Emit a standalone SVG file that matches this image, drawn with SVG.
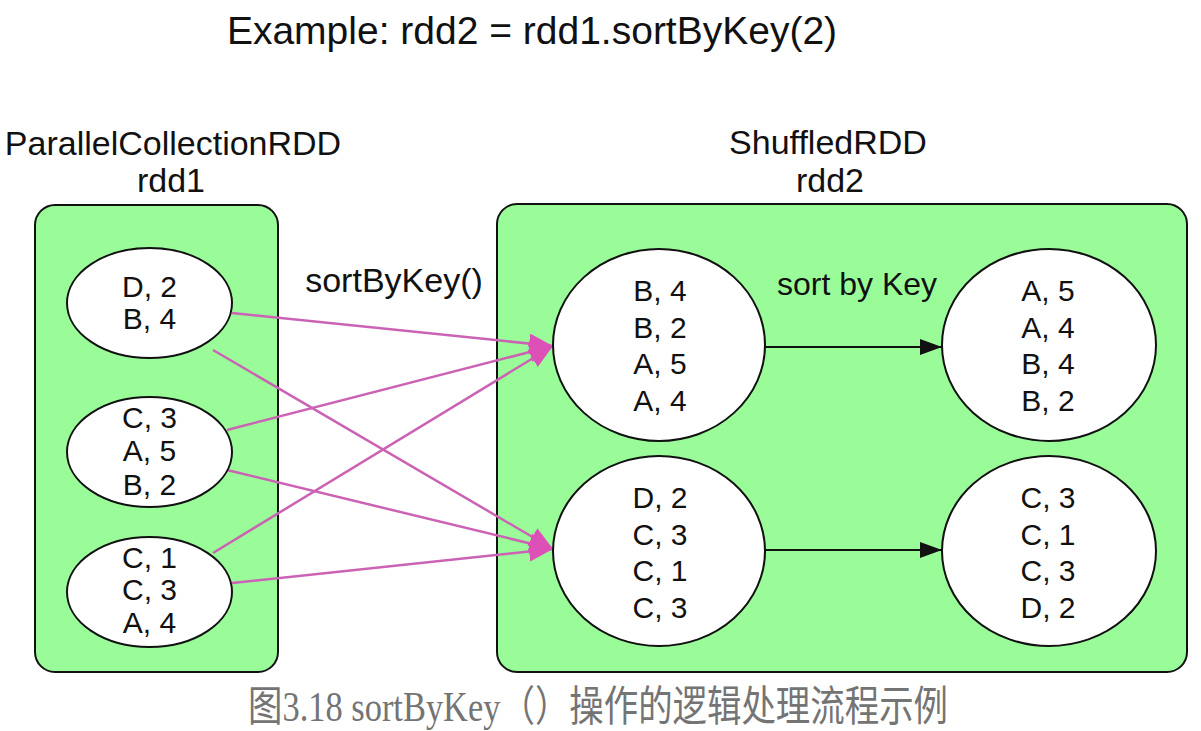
<svg xmlns="http://www.w3.org/2000/svg" width="1201" height="731" viewBox="0 0 1201 731">
<style>
.t{font-family:"Liberation Sans",Arial,sans-serif;fill:#111;text-anchor:middle}
.box{fill:#99fc99;stroke:#111;stroke-width:2}
.node{fill:#fff;stroke:#111;stroke-width:2}
.nt{font-family:"Liberation Sans",Arial,sans-serif;font-size:30px;fill:#111;text-anchor:middle}
.pink{stroke:#cc62b4;stroke-width:2.5;fill:none;marker-end:url(#mp)}
.blk{stroke:#111;stroke-width:2;fill:none;marker-end:url(#mb)}
</style>
<defs>
<marker id="mp" markerUnits="userSpaceOnUse" markerWidth="26" markerHeight="22" refX="24" refY="10" orient="auto">
<path d="M0,0 L24,10 L0,20 z" fill="#dc50b8"/>
</marker>
<marker id="mb" markerUnits="userSpaceOnUse" markerWidth="24" markerHeight="18" refX="22" refY="8" orient="auto">
<path d="M0,0 L22,8 L0,16 z" fill="#111"/>
</marker>
</defs>
<rect width="1201" height="731" fill="#fff"/>
<text class="t" x="532" y="44" font-size="39">Example: rdd2 = rdd1.sortByKey(2)</text>

<g id="rdd1">
<rect class="box" x="35" y="205" width="243" height="467" rx="20"/>
<text class="t" x="173" y="155" font-size="34">ParallelCollectionRDD</text>
<text class="t" x="171" y="192" font-size="34">rdd1</text>
</g>
<g id="rdd2">
<rect class="box" x="497" y="204" width="690" height="468" rx="20"/>
<text class="t" x="828" y="154" font-size="34">ShuffledRDD</text>
<text class="t" x="830" y="192" font-size="34">rdd2</text>
</g>

<g id="connectors">
<path class="pink" d="M232,313 L553,346"/>
<path class="pink" d="M213,350 L553,549"/>
<path class="pink" d="M227,430 L553,346"/>
<path class="pink" d="M227,470 L553,549"/>
<path class="pink" d="M213,553 L553,346"/>
<path class="pink" d="M232,583 L553,549"/>
<path class="blk" d="M765,347 L942,347"/>
<path class="blk" d="M765,550 L942,550"/>
<text class="t" x="394" y="292" font-size="34">sortByKey()</text>
<text class="t" x="857" y="295" font-size="32">sort by Key</text>
</g>

<g id="p1">
<ellipse class="node" cx="149.5" cy="303" rx="82.5" ry="55"/>
<text class="nt" x="149.5" y="297">D, 2</text>
<text class="nt" x="149.5" y="329">B, 4</text>
</g>
<g id="p2">
<ellipse class="node" cx="149.5" cy="452" rx="82.5" ry="55"/>
<text class="nt" x="149.5" y="428">C, 3</text>
<text class="nt" x="149.5" y="461">A, 5</text>
<text class="nt" x="149.5" y="495">B, 2</text>
</g>
<g id="p3">
<ellipse class="node" cx="149.5" cy="592" rx="82.5" ry="55"/>
<text class="nt" x="149.5" y="568">C, 1</text>
<text class="nt" x="149.5" y="600">C, 3</text>
<text class="nt" x="149.5" y="633">A, 4</text>
</g>

<g id="s1">
<ellipse class="node" cx="659" cy="345" rx="106" ry="96"/>
<text class="nt" x="660" y="301" font-size="31">B, 4</text>
<text class="nt" x="660" y="337.5" font-size="31">B, 2</text>
<text class="nt" x="660" y="374" font-size="31">A, 5</text>
<text class="nt" x="660" y="410.5" font-size="31">A, 4</text>
</g>
<g id="s2">
<ellipse class="node" cx="659" cy="551" rx="106" ry="95"/>
<text class="nt" x="660" y="508" font-size="31">D, 2</text>
<text class="nt" x="660" y="544.5" font-size="31">C, 3</text>
<text class="nt" x="660" y="581" font-size="31">C, 1</text>
<text class="nt" x="660" y="617.5" font-size="31">C, 3</text>
</g>
<g id="t1">
<ellipse class="node" cx="1049" cy="345" rx="107" ry="96"/>
<text class="nt" x="1048" y="301" font-size="31">A, 5</text>
<text class="nt" x="1048" y="337.5" font-size="31">A, 4</text>
<text class="nt" x="1048" y="374" font-size="31">B, 4</text>
<text class="nt" x="1048" y="410.5" font-size="31">B, 2</text>
</g>
<g id="t2">
<ellipse class="node" cx="1049" cy="551" rx="107" ry="95"/>
<text class="nt" x="1048" y="508" font-size="31">C, 3</text>
<text class="nt" x="1048" y="544.5" font-size="31">C, 1</text>
<text class="nt" x="1048" y="581" font-size="31">C, 3</text>
<text class="nt" x="1048" y="617.5" font-size="31">D, 2</text>
</g>

<text transform="translate(598,721) scale(0.82,1)" x="0" y="0" font-size="42" fill="#747474" text-anchor="middle" font-family="'Liberation Serif','Noto Sans CJK SC',serif">图3.18 sortByKey（）操作的逻辑处理流程示例</text>
</svg>
